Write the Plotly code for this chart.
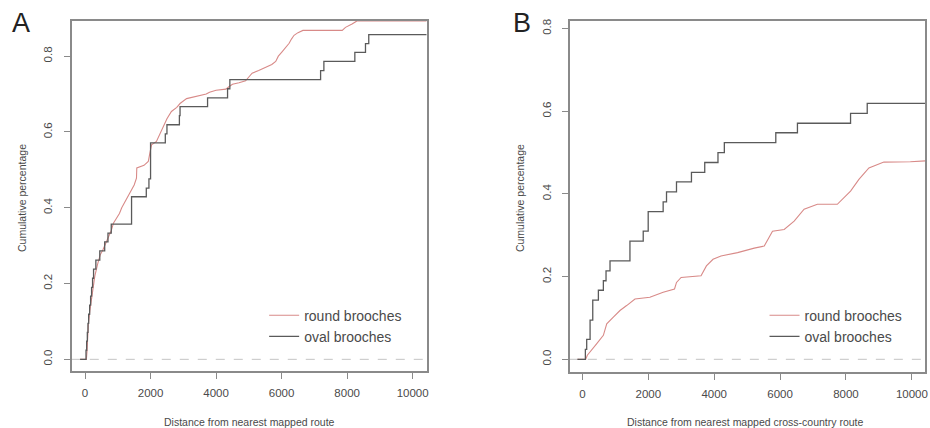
import plotly.graph_objects as go

# ---------------- data ----------------
# Panel A: distance from nearest mapped route
a_round_x = [-150, 40, 60, 100, 150, 200, 250, 300, 380, 460, 550, 650, 720, 800, 870, 950,
             1050, 1120, 1250, 1420, 1500, 1570, 1580, 1800, 1930, 1980, 2030, 2180, 2280,
             2384, 2500, 2637, 2800, 2900, 2980, 3100, 3700, 3800, 4000, 4300, 4400, 4500,
             4700, 4900, 5000, 5100, 5300, 5500, 5700, 5820, 5900, 6000, 6100, 6230, 6300,
             6380, 6500, 6650, 7850, 7950, 8150, 8300, 10430]
a_round_y = [0, 0, 0.02, 0.09, 0.13, 0.16, 0.19, 0.22, 0.25, 0.275, 0.29, 0.31, 0.325, 0.34,
             0.36, 0.37, 0.385, 0.40, 0.42, 0.448, 0.46, 0.478, 0.505, 0.512, 0.522, 0.545,
             0.566, 0.575, 0.595, 0.614, 0.635, 0.654, 0.665, 0.675, 0.68, 0.688, 0.70,
             0.705, 0.71, 0.713, 0.72, 0.726, 0.73, 0.735, 0.745, 0.755, 0.762, 0.77, 0.778,
             0.786, 0.80, 0.81, 0.82, 0.834, 0.845, 0.855, 0.862, 0.868, 0.868, 0.876,
             0.885, 0.893, 0.893]

a_oval_x = [-150, 30, 50, 70, 90, 110, 140, 170, 200, 230, 260, 330, 450, 600, 700, 800,
            1420, 1870, 1950, 2000, 2450, 2500, 2880, 2900, 3740, 4350, 4420, 7190, 7290,
            8235, 8560, 8660, 10430]
a_oval_y = [0, 0.024, 0.048, 0.071, 0.095, 0.119, 0.143, 0.167, 0.190, 0.214, 0.238, 0.262,
            0.286, 0.310, 0.333, 0.357, 0.429, 0.452, 0.476, 0.571, 0.595, 0.619, 0.643,
            0.667, 0.690, 0.714, 0.738, 0.762, 0.786, 0.810, 0.833, 0.857, 0.857]

# Panel B: distance from nearest mapped cross-country route
b_round_x = [-150, 100, 150, 284, 436, 636, 738, 939, 1141, 1343, 1595, 2048, 2290, 2451,
             2796, 2856, 2996, 3601, 3764, 3964, 4206, 4711, 5216, 5519, 5770, 6124, 6427,
             6729, 7132, 7737, 8139, 8393, 8696, 9150, 9955, 10257, 10410]
b_round_y = [0, 0, 0.01, 0.022, 0.038, 0.058, 0.086, 0.102, 0.118, 0.13, 0.146, 0.15, 0.158,
             0.162, 0.17, 0.186, 0.198, 0.202, 0.226, 0.242, 0.25, 0.258, 0.269, 0.274,
             0.31, 0.314, 0.334, 0.363, 0.375, 0.375, 0.407, 0.435, 0.463, 0.477, 0.478,
             0.48, 0.48]

b_oval_x = [-150, 90, 130, 233, 314, 485, 636, 717, 838, 1443, 1846, 1997, 2451, 2553,
            2856, 3310, 3713, 4115, 4308, 5870, 6527, 8139, 8645, 10410]
b_oval_y = [0, 0.024, 0.048, 0.095, 0.143, 0.167, 0.190, 0.214, 0.238, 0.286, 0.310, 0.357,
            0.381, 0.405, 0.429, 0.452, 0.476, 0.500, 0.524, 0.548, 0.571, 0.595, 0.619,
            0.619]

x_ticks = [0, 2000, 4000, 6000, 8000, 10000]
x_tick_text = ["0", "2000", "4000", "6000", "8000", "10000"]
y_ticks = [0.0, 0.2, 0.4, 0.6, 0.8]
y_tick_text = ["0.0", "0.2", "0.4", "0.6", "0.8"]
series_names = ["round brooches", "oval brooches"]

# ---------------- styling ----------------
ROUND_COLOR = "#d88a88"
OVAL_COLOR = "#5a5a5a"
FRAME = "#8a8a8a"
TEXT = "#4a4a4a"
FONT = "Liberation Sans, Arial, sans-serif"
W, H = 930, 428

fig = go.Figure()

fig.add_trace(go.Scatter(x=a_round_x, y=a_round_y, mode="lines", name=series_names[0],
                         line=dict(color=ROUND_COLOR, width=1.1), xaxis="x", yaxis="y",
                         legend="legend"))
fig.add_trace(go.Scatter(x=a_oval_x, y=a_oval_y, mode="lines", name=series_names[1],
                         line=dict(color=OVAL_COLOR, width=1.3, shape="hv"), xaxis="x",
                         yaxis="y", legend="legend"))
fig.add_trace(go.Scatter(x=b_round_x, y=b_round_y, mode="lines", name=series_names[0],
                         line=dict(color=ROUND_COLOR, width=1.1), xaxis="x2", yaxis="y2",
                         legend="legend2"))
fig.add_trace(go.Scatter(x=b_oval_x, y=b_oval_y, mode="lines", name=series_names[1],
                         line=dict(color=OVAL_COLOR, width=1.3, shape="hv"), xaxis="x2",
                         yaxis="y2", legend="legend2"))

ax_common = dict(showgrid=False, zeroline=False, showline=True, mirror=True,
                 linecolor=FRAME, linewidth=1.5, ticks="outside", ticklen=6,
                 tickcolor=FRAME, tickwidth=1, ticklabeloverflow="allow",
                 tickfont=dict(family=FONT, size=11.5, color=TEXT))

fig.update_layout(
    width=W, height=H,
    margin=dict(l=0, r=0, t=0, b=0),
    paper_bgcolor="white", plot_bgcolor="white",
    showlegend=True,
    xaxis=dict(domain=[72 / W, 428 / W], range=[-405, 10426], tickvals=x_ticks,
               ticktext=x_tick_text, ticklabelstandoff=4, anchor="y", **ax_common),
    yaxis=dict(domain=[1 - 371 / H, 1 - 19 / H], range=[-0.0315, 0.893], tickvals=y_ticks,
               ticktext=y_tick_text, tickangle=-90, ticklabelstandoff=7, anchor="x",
               **ax_common),
    xaxis2=dict(domain=[571.7 / W, 928.3 / W], range=[-381, 10408], tickvals=x_ticks,
                ticktext=x_tick_text, ticklabelstandoff=4, anchor="y2", **ax_common),
    yaxis2=dict(domain=[1 - 371.7 / H, 1 - 19 / H], range=[-0.0306, 0.8185],
                tickvals=y_ticks, ticktext=y_tick_text, tickangle=-90, ticklabelstandoff=7,
                anchor="x2", **ax_common),
    legend=dict(x=265 / W, y=1 - 299 / H, xanchor="left", yanchor="top",
                bgcolor="rgba(0,0,0,0)", font=dict(family=FONT, size=14, color=TEXT),
                tracegroupgap=0, itemwidth=30),
    legend2=dict(x=767 / W, y=1 - 299 / H, xanchor="left", yanchor="top",
                 bgcolor="rgba(0,0,0,0)", font=dict(family=FONT, size=14, color=TEXT),
                 tracegroupgap=0, itemwidth=30),
)

# dashed reference line at 0 (as in R's plot.ecdf)
for xr, yr in (("x domain", "y"), ("x2 domain", "y2")):
    fig.add_shape(type="line", xref=xr, yref=yr, x0=0, x1=1, y0=0, y1=0,
                  line=dict(color="#c4c4c4", width=1, dash="dash"), layer="below")

for txt, px in (("A", 10), ("B", 513)):
    fig.add_annotation(xref="paper", yref="paper", xanchor="left", yanchor="top",
                       showarrow=False, text=txt, x=px / W, y=1 - 4 / H,
                       font=dict(family=FONT, size=27, color="#222222"))

titles = [
    ("Cumulative percentage", 22, 197, -90),
    ("Cumulative percentage", 521.7, 197, -90),
    ("Distance from nearest mapped route", 250, 421.5, 0),
    ("Distance from nearest mapped cross-country route", 748.3, 421.5, 0),
]
for txt, px, py, ang in titles:
    fig.add_annotation(xref="paper", yref="paper", x=px / W, y=1 - py / H,
                       xanchor="center", yanchor="middle", showarrow=False, text=txt,
                       textangle=ang, font=dict(family=FONT, size=10.5, color=TEXT))

fig.write_html("out.html", config={"displayModeBar": False},
               post_script="document.body.style.margin='0';document.body.style.overflow='hidden';")
